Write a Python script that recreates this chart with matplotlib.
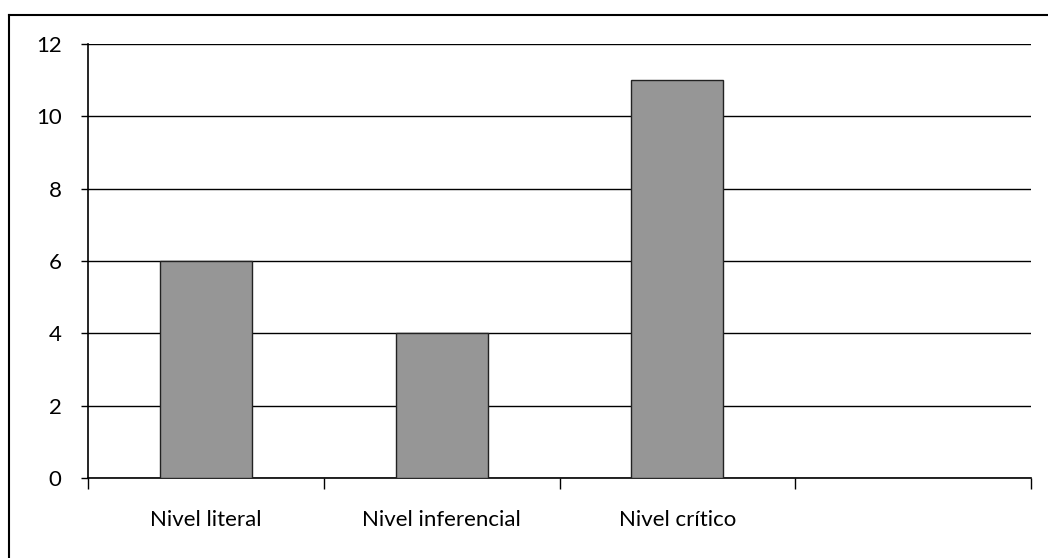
import matplotlib
matplotlib.use("Agg")
import matplotlib.pyplot as plt

categories = ["Nivel literal", "Nivel inferencial", "Nivel crítico", ""]
values = [6, 4, 11, None]
yticks = [0, 2, 4, 6, 8, 10, 12]

plt.rcParams['font.family'] = ['Lato', 'DejaVu Sans']

fig = plt.figure(figsize=(10.48, 5.58), dpi=100)
ax = fig.add_axes([88/1048, 1-478/558, (1031-88)/1048, (478-44)/558])

xs = [i for i, v in enumerate(values) if v is not None]
vs = [v for v in values if v is not None]
ax.bar(xs, vs, width=0.39, color='#969696', edgecolor='#222222', linewidth=1.0, zorder=3)

ax.set_xlim(-0.5, len(categories) - 0.5)
ax.set_ylim(0, 12)
ax.set_yticks(yticks)
ax.set_yticklabels([str(t) for t in yticks], fontsize=16)
ax.yaxis.grid(True, color='black', linewidth=1.0, zorder=0)
ax.set_axisbelow(True)

ax.set_xticks([i - 0.5 for i in range(len(categories) + 1)])
ax.set_xticklabels([])
ax.set_xticks(range(len(categories)), minor=True)
ax.set_xticklabels(categories, minor=True, fontsize=16)
ax.tick_params(axis='x', which='major', direction='out', length=8, width=1, color='black')
ax.tick_params(axis='x', which='minor', length=0, pad=23)
ax.tick_params(axis='y', direction='out', length=5, width=1, pad=14)

for s in ['top', 'right']:
    ax.spines[s].set_visible(False)
ax.spines['left'].set_linewidth(1.2)
ax.spines['bottom'].set_linewidth(1.2)

# outer frame (top and left edges)
fig.add_artist(plt.Line2D([9/1048, 1.0], [1-15/558, 1-15/558], color='black', linewidth=1.5, transform=fig.transFigure))
fig.add_artist(plt.Line2D([9/1048, 9/1048], [0.0, 1-15/558], color='black', linewidth=1.5, transform=fig.transFigure))

fig.savefig("out.png", dpi=100)
